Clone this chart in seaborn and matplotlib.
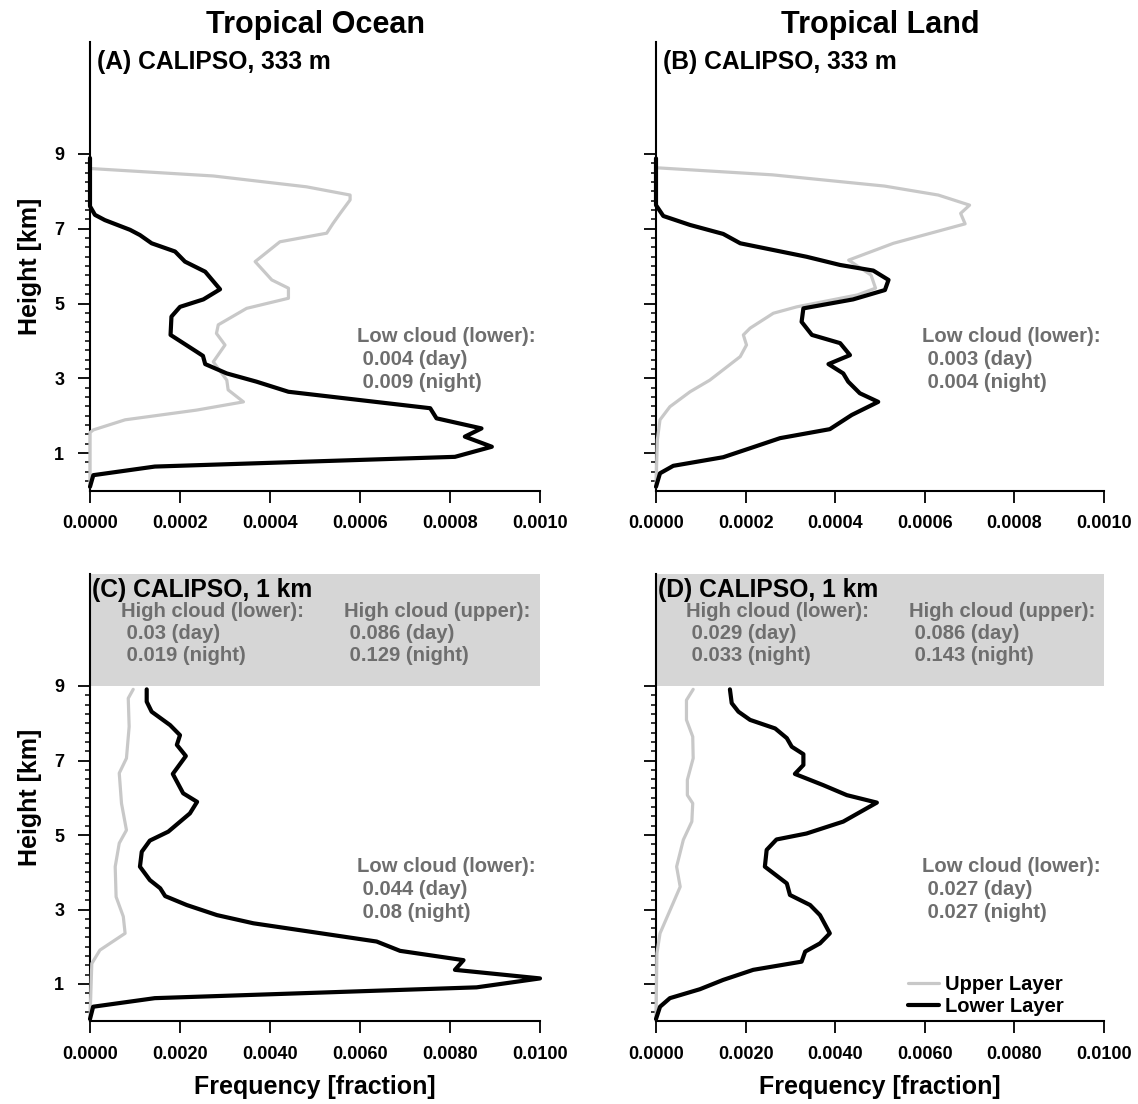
import matplotlib
matplotlib.use("Agg")
import matplotlib.pyplot as plt
import seaborn as sns
import numpy as np
import pandas as pd
from matplotlib.ticker import FixedLocator, FormatStrFormatter

# ---------------- data ----------------
A_lower_h = [8.89, 7.60, 7.37, 7.23, 6.97, 6.83, 6.61, 6.39, 6.12, 5.85, 5.38, 5.11, 4.91, 4.65, 4.16,
             3.71, 3.60, 3.38, 3.13, 2.91, 2.64, 2.20, 1.93, 1.66, 1.44, 1.17, 0.90, 0.64, 0.41, 0.10]
A_lower_f = [0, 0, 0.000011, 0.000033, 0.000089, 0.000111, 0.000137, 0.000189, 0.000211, 0.000256,
             0.000289, 0.000252, 0.0002, 0.000181, 0.000179, 0.000237, 0.000251, 0.000256, 0.000304,
             0.00037, 0.000441, 0.000756, 0.00077, 0.00087, 0.000833, 0.000893, 0.000811, 0.000144,
             0.0000074, 0]
A_upper_h = [8.61, 8.41, 8.12, 7.90, 7.77, 7.41, 7.14, 6.88, 6.65, 6.12, 5.63, 5.41, 5.14, 4.87, 4.43,
             4.20, 3.89, 3.44, 2.95, 2.69, 2.37, 2.15, 1.89, 1.62, 1.55, 0.10]
A_upper_f = [0, 0.000274, 0.000481, 0.000578, 0.000578, 0.000556, 0.00054, 0.000526, 0.000422,
             0.000367, 0.000404, 0.000441, 0.000441, 0.000348, 0.000285, 0.000281, 0.0003, 0.000274,
             0.000304, 0.000307, 0.000341, 0.000237, 0.000078, 0.0000074, 0, 0]

B_lower_h = [8.88, 7.63, 7.34, 7.10, 6.86, 6.61, 6.43, 6.25, 6.03, 5.88, 5.63, 5.36, 5.11, 4.87, 4.51,
             4.16, 3.94, 3.62, 3.38, 3.13, 2.91, 2.60, 2.37, 2.02, 1.64, 1.40, 1.13, 0.89, 0.66, 0.46, 0.10]
B_lower_f = [0, 0, 0.0000163, 0.000076, 0.00015, 0.000188, 0.000262, 0.000336, 0.000411, 0.000485,
             0.000519, 0.000511, 0.00044, 0.000329, 0.000325, 0.000348, 0.000411, 0.000433, 0.000385,
             0.000418, 0.000429, 0.000455, 0.000496, 0.000437, 0.000388, 0.000277, 0.00021, 0.00015,
             0.0000386, 0.0000089, 0]
B_upper_h = [8.63, 8.44, 8.26, 8.14, 7.90, 7.63, 7.41, 7.13, 6.61, 6.16, 5.76, 5.41, 5.23, 4.91, 4.74,
             4.34, 4.16, 3.89, 3.58, 2.95, 2.64, 2.24, 1.89, 1.35, 0.10]
B_upper_f = [0, 0.00026, 0.00041, 0.00051, 0.00063, 0.0007, 0.00068, 0.00069, 0.00053, 0.00043,
             0.00048, 0.00049, 0.00045, 0.000314, 0.000262, 0.00021, 0.000195, 0.000202, 0.000188,
             0.00012, 0.000076, 0.000031, 0.0000089, 0.000003, 0]

C_lower_h = [8.91, 8.58, 8.31, 7.95, 7.68, 7.42, 7.12, 6.64, 6.12, 5.89, 5.58, 5.09, 4.85, 4.55, 4.15,
             3.79, 3.57, 3.36, 3.12, 2.85, 2.63, 2.14, 1.89, 1.64, 1.38, 1.15, 0.91, 0.62, 0.39, 0.06]
C_lower_f = [0.00126, 0.00126, 0.00137, 0.00178, 0.0020, 0.00193, 0.00213, 0.00184, 0.00207, 0.00238,
             0.00222, 0.00174, 0.00133, 0.00115, 0.00111, 0.00133, 0.00156, 0.00167, 0.00215, 0.00282,
             0.00363, 0.00637, 0.00689, 0.0083, 0.00811, 0.0100, 0.00859, 0.00144, 0.00007, 0]
C_upper_h = [8.91, 8.67, 7.91, 7.06, 6.66, 5.85, 5.13, 4.78, 4.15, 3.34, 2.81, 2.36, 1.91, 1.55, 0.06]
C_upper_f = [0.00096, 0.00085, 0.00087, 0.00081, 0.00065, 0.0007, 0.00081, 0.00065, 0.00056, 0.00058,
             0.00074, 0.00078, 0.00022, 0.00004, 0]

D_lower_h = [8.91, 8.54, 8.31, 8.09, 7.86, 7.60, 7.37, 7.17, 6.88, 6.64, 6.34, 6.07, 5.87, 5.36, 5.04,
             4.88, 4.60, 4.15, 3.70, 3.39, 3.12, 2.85, 2.36, 2.09, 1.87, 1.60, 1.38, 1.11, 0.86, 0.62,
             0.39, 0.06]
D_lower_f = [0.00165, 0.00169, 0.00184, 0.0021, 0.00266, 0.00292, 0.00303, 0.00329, 0.00329, 0.0031,
             0.00373, 0.00426, 0.00493, 0.00418, 0.00336, 0.00269, 0.00247, 0.00243, 0.00292, 0.00299,
             0.00344, 0.00366, 0.00388, 0.00366, 0.00333, 0.00325, 0.00217, 0.0015, 0.00098, 0.00031,
             0.00009, 0]
D_upper_h = [8.91, 8.62, 8.09, 7.64, 7.06, 6.48, 6.07, 5.85, 5.36, 4.87, 4.15, 3.61, 2.36, 1.82, 0.06]
D_upper_f = [0.00083, 0.00068, 0.00068, 0.00082, 0.00083, 0.0007, 0.0007, 0.00082, 0.0008, 0.00061,
             0.00046, 0.00054, 0.00009, 0.00002, 0]

column_titles = ["Tropical Ocean", "Tropical Land"]
panel_labels = ["(A) CALIPSO, 333 m", "(B) CALIPSO, 333 m", "(C) CALIPSO, 1 km", "(D) CALIPSO, 1 km"]
low_cloud_text = [["0.004 (day)", "0.009 (night)"], ["0.003 (day)", "0.004 (night)"],
                  ["0.044 (day)", "0.08 (night)"], ["0.027 (day)", "0.027 (night)"]]
high_lower_text = [["0.03 (day)", "0.019 (night)"], ["0.029 (day)", "0.033 (night)"]]
high_upper_text = [["0.086 (day)", "0.129 (night)"], ["0.086 (day)", "0.143 (night)"]]
y_ticks = [1, 3, 5, 7, 9]
x_ticks_top = [0.0, 0.0002, 0.0004, 0.0006, 0.0008, 0.0010]
x_ticks_bot = [0.0, 0.002, 0.004, 0.006, 0.008, 0.010]

# ---------------- style ----------------
sns.set_style("ticks")
plt.rcParams["font.family"] = ["Liberation Sans", "DejaVu Sans"]
plt.rcParams["font.weight"] = "bold"
plt.rcParams["axes.labelweight"] = "bold"
for k in ["text.color", "axes.labelcolor", "xtick.color", "ytick.color", "axes.edgecolor"]:
    plt.rcParams[k] = "black"

GRAY_LINE = "#c8c8c8"
TEXT_GRAY = "#6e6e6e"
SHADE = "#d6d6d6"

W, H = 1138, 1104
fig = plt.figure(figsize=(W / 100, H / 100), dpi=100)


def add_ax(l, r, b, t):
    return fig.add_axes([l / W, 1 - b / H, (r - l) / W, (b - t) / H])


axA = add_ax(90, 540, 490.5, 41.7)
axB = add_ax(656, 1104, 490.5, 41.7)
axC = add_ax(90, 540, 1021.25, 574.25)
axD = add_ax(656, 1104, 1021.25, 574.25)
axes = [axA, axB, axC, axD]

series = [
    (A_upper_h, A_upper_f, A_lower_h, A_lower_f),
    (B_upper_h, B_upper_f, B_lower_h, B_lower_f),
    (C_upper_h, C_upper_f, C_lower_h, C_lower_f),
    (D_upper_h, D_upper_f, D_lower_h, D_lower_f),
]

minor_y = [v for v in np.arange(0.25, 9.0, 0.25) if v not in y_ticks]

for i, ax in enumerate(axes):
    uh, uf, lh, lf = series[i]
    up = pd.DataFrame({"h": uh, "f": uf})
    lo = pd.DataFrame({"h": lh, "f": lf})
    if i >= 2:
        ax.axhspan(9, 12, color=SHADE, zorder=0, lw=0)
    sns.lineplot(data=up, x="f", y="h", sort=False, estimator=None, color=GRAY_LINE,
                 linewidth=2.3, ax=ax, label="Upper Layer", clip_on=False, zorder=3)
    sns.lineplot(data=lo, x="f", y="h", sort=False, estimator=None, color="black",
                 linewidth=3.0, ax=ax, label="Lower Layer", clip_on=False, zorder=4)
    if ax.get_legend() is not None:
        ax.get_legend().remove()

    ax.set_ylim(0, 12)
    if i < 2:
        ax.set_xlim(0, 0.001)
        ax.set_xticks(x_ticks_top)
    else:
        ax.set_xlim(0, 0.01)
        ax.set_xticks(x_ticks_bot)
    ax.xaxis.set_major_formatter(FormatStrFormatter("%.4f"))
    ax.set_yticks(y_ticks)
    ax.yaxis.set_minor_locator(FixedLocator(minor_y))
    sns.despine(ax=ax)
    for s in ["left", "bottom"]:
        ax.spines[s].set_linewidth(1.5)
    ax.tick_params(axis="both", which="major", direction="out", length=8.6, width=1.3,
                   labelsize=13)
    ax.tick_params(axis="x", which="major", pad=9)
    ax.tick_params(axis="y", which="major", pad=10)
    ax.tick_params(axis="y", which="minor", direction="out", length=3.5, width=1.1)
    for lab in ax.get_xticklabels() + ax.get_yticklabels():
        lab.set_fontweight("bold")
    ax.set_xlabel("")
    ax.set_ylabel("")
    if i in (0, 2):
        ax.set_ylabel("Height [km]", fontsize=18, fontweight="bold", labelpad=9)
    else:
        ax.tick_params(axis="y", labelleft=False)
    if i >= 2:
        ax.set_xlabel("Frequency [fraction]", fontsize=18, fontweight="bold", labelpad=9)

    if i < 2:
        lx, ly = 7 / 450, 0.940
    else:
        lx, ly = 2.5 / 450, 0.950
    ax.text(lx, ly, panel_labels[i], transform=ax.transAxes, ha="left", va="baseline",
            fontsize=17.7, fontweight="bold", color="black")
    day, night = low_cloud_text[i]
    low_y = 0.3643 if i < 2 else 0.3674
    ax.text(0.594, low_y, "Low cloud (lower):\n " + day + "\n " + night,
            transform=ax.transAxes, ha="left", va="top", fontsize=14.6, fontweight="bold",
            color=TEXT_GRAY, linespacing=1.27)
    if i >= 2:
        d1, n1 = high_lower_text[i - 2]
        d2, n2 = high_upper_text[i - 2]
        ax.text(0.068, 0.938, "High cloud (lower):\n " + d1 + "\n " + n1,
                transform=ax.transAxes, ha="left", va="top", fontsize=14.6, fontweight="bold",
                color=TEXT_GRAY, linespacing=1.19)
        ax.text(0.565, 0.938, "High cloud (upper):\n " + d2 + "\n " + n2,
                transform=ax.transAxes, ha="left", va="top", fontsize=14.6, fontweight="bold",
                color=TEXT_GRAY, linespacing=1.19)

# legend in panel D
handles, labels = axD.get_legend_handles_labels()
leg = axD.legend(handles[:2], labels[:2], loc="lower left", bbox_to_anchor=(0.5625, 0.012),
                 frameon=False, fontsize=14.5, handlelength=1.54, handletextpad=0.3,
                 labelspacing=0.15, borderpad=0, borderaxespad=0)
for t in leg.get_texts():
    t.set_fontweight("bold")
    t.set_color("black")

fig.text(315 / W, 1 - 33 / H, column_titles[0], ha="center", va="baseline",
         fontsize=22, fontweight="bold", color="black")
fig.text(880 / W, 1 - 33 / H, column_titles[1], ha="center", va="baseline",
         fontsize=22, fontweight="bold", color="black")

fig.savefig("out.png", dpi=100)
